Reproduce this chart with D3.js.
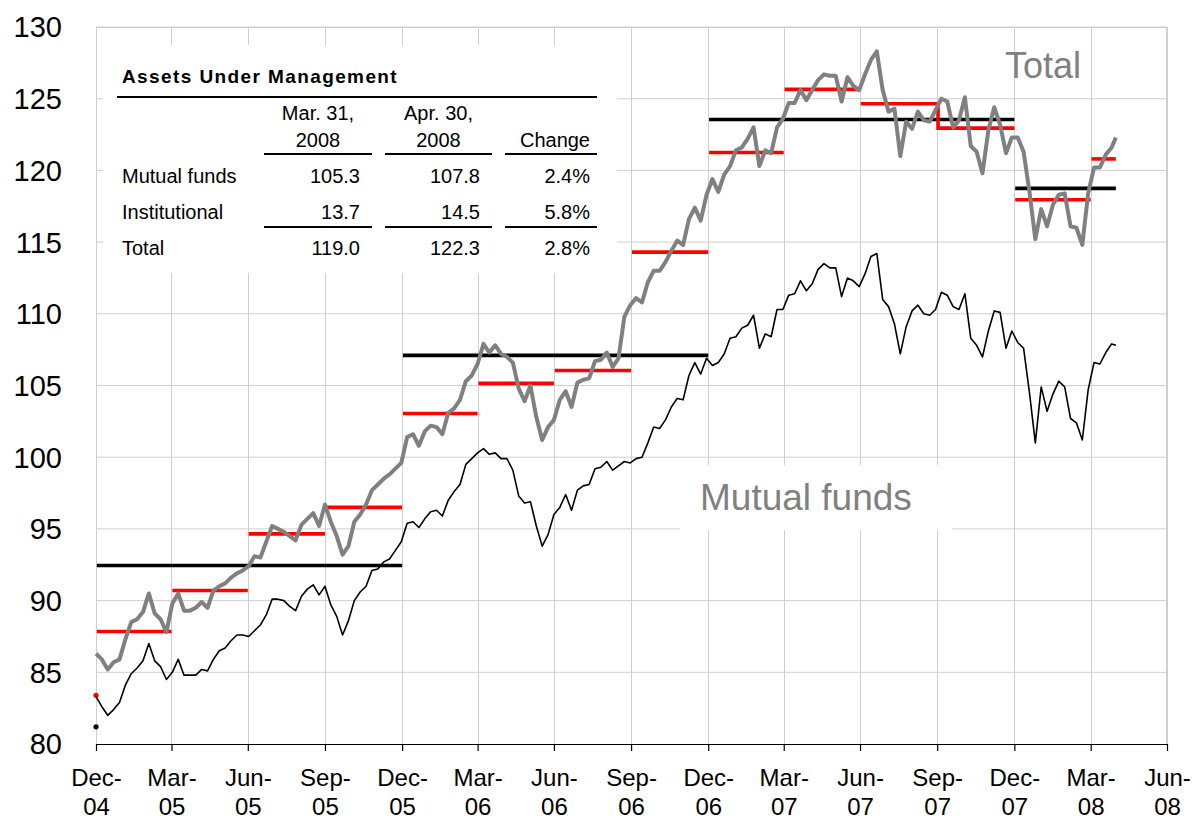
<!DOCTYPE html>
<html>
<head>
<meta charset="utf-8">
<script src="https://cdnjs.cloudflare.com/ajax/libs/d3/7.8.5/d3.min.js"></script>
<style>
  body { margin: 0; background: #fff; }
  text { font-family: Arial, "Liberation Sans", sans-serif; }
</style>
</head>
<body>
<div id="chart"></div>
<script>
// weekly index values (Fridays), starting 31-Dec-2004
var firstWeek = new Date(2004, 11, 31);
var lastDay = new Date(2008, 3, 30);

var totalWeekly = [
  86.3, 85.9, 85.2, 85.7, 85.9, 87.3, 88.5, 88.7, 89.2, 90.5,
  89.1, 88.7, 87.8, 89.8, 90.5, 89.3, 89.3, 89.5, 89.9, 89.5,
  90.7, 91.0, 91.2, 91.6, 91.9, 92.1, 92.4, 93.1, 93.0, 94.1,
  95.2, 95.0, 94.8, 94.5, 94.2, 95.3, 95.7, 96.1, 95.2, 96.7,
  95.5, 94.5, 93.2, 93.8, 95.5, 96.0, 96.7, 97.7, 98.1, 98.5,
  98.8, 99.2, 99.6, 101.4, 101.6, 100.8, 101.8, 102.2, 102.1, 101.6,
  103.1, 103.4, 104.0, 105.3, 105.7, 106.5, 107.9, 107.3, 107.8, 107.2,
  107.0, 106.6, 104.8, 103.9, 105.0, 102.8, 101.2, 102.1, 102.6, 104.0,
  104.6, 103.5, 105.2, 105.4, 105.5, 106.7, 106.8, 107.3, 106.3, 106.9,
  109.8, 110.6, 111.1, 110.8, 112.2, 113.0, 113.0, 113.6, 114.4, 115.1,
  114.8, 116.6, 117.4, 116.5, 118.3, 119.4, 118.5, 119.7, 120.3, 121.4,
  121.6, 122.2, 123.0, 120.3, 121.4, 121.2, 123.0, 123.6, 124.7, 124.7,
  125.6, 124.9, 125.6, 126.3, 126.7, 126.6, 126.6, 124.8, 126.5, 125.9,
  125.6, 126.7, 127.7, 128.3, 125.6, 124.1, 124.3, 121.0, 123.4, 122.9,
  124.1, 123.5, 123.4, 124.2, 125.0, 124.8, 123.0, 123.5, 125.1, 121.7,
  121.3, 119.8, 122.8, 124.4, 123.2, 121.2, 122.3, 122.3, 121.3, 118.5,
  115.2, 117.3, 116.1, 117.6, 118.3, 118.4, 116.1, 116.0, 114.8, 118.4,
  120.2, 120.2, 121.1, 121.6
];
var mutualWeekly = [
  83.3, 82.6, 82.0, 82.4, 82.9, 84.1, 84.9, 85.3, 85.8, 87.0,
  85.8, 85.4, 84.5, 85.0, 85.9, 84.8, 84.8, 84.8, 85.2, 85.1,
  85.9, 86.5, 86.7, 87.2, 87.6, 87.6, 87.5, 87.9, 88.3, 89.0,
  90.1, 90.1, 90.0, 89.6, 89.3, 90.3, 90.8, 91.1, 90.4, 91.0,
  89.7, 88.9, 87.6, 88.6, 90.0, 90.6, 91.0, 92.1, 92.2, 92.7,
  92.9, 93.5, 94.1, 95.4, 95.5, 95.1, 95.7, 96.2, 96.3, 95.9,
  97.0, 97.6, 98.1, 99.5, 99.9, 100.3, 100.6, 100.2, 100.3, 99.9,
  99.9, 99.1, 97.3, 96.8, 96.9, 95.2, 93.8, 94.6, 96.0, 96.5,
  97.4, 96.3, 97.7, 98.0, 98.1, 99.2, 99.3, 99.7, 99.1, 99.4,
  99.7, 99.6, 99.9, 100.0, 101.0, 102.1, 102.0, 102.6, 103.5, 104.1,
  104.0, 105.7, 106.6, 105.8, 106.9, 106.4, 106.6, 107.2, 108.3, 108.4,
  109.0, 109.2, 109.9, 107.6, 108.6, 108.4, 110.3, 110.3, 111.3, 111.4,
  112.3, 111.6, 112.1, 113.1, 113.5, 113.2, 113.2, 111.2, 112.5, 112.3,
  111.9, 112.8, 114.0, 114.2, 111.0, 110.5, 109.3, 107.2, 109.1, 110.2,
  110.6, 110.0, 109.9, 110.3, 111.5, 111.3, 110.5, 110.3, 111.4, 108.3,
  107.8, 107.0, 108.8, 110.2, 110.1, 107.6, 108.8, 108.0, 107.6, 104.5,
  101.0, 104.9, 103.2, 104.4, 105.3, 104.9, 102.7, 102.4, 101.2, 104.7,
  106.6, 106.5, 107.3, 107.9
];
var lastTotal = 122.3;
var lastMutual = 107.8;

// quarterly averages of total (red) and yearly averages (black)
var quarterNames = ["2004Q4", "2005Q1", "2005Q2", "2005Q3", "2005Q4", "2006Q1", "2006Q2",
  "2006Q3", "2006Q4", "2007Q1", "2007Q2", "2007Q3", "2007Q4", "2008Q1", "2008Q2"];
var quarterAvg = [83.4, 87.85, 90.7, 94.65, 96.5, 103.05, 105.15,
  106.05, 114.3, 121.25, 125.65, 124.65, 122.95, 117.95, 120.8];
var joinedQuarters = ["2007Q4"];
var years = [2004, 2005, 2006, 2007, 2008];
var yearAvg = [81.2, 92.45, 107.1, 123.55, 118.75];

// table
var tableTitle = "Assets Under Management";
var tableHeads = [["Mar. 31,", "2008"], ["Apr. 30,", "2008"], ["", "Change"]];
var tableRows = ["Mutual funds", "Institutional", "Total"];
var mar31 = [105.3, 13.7, 119.0];
var apr30 = [107.8, 14.5, 122.3];
var changePct = [2.4, 5.8, 2.8];

var yTicks = [80, 85, 90, 95, 100, 105, 110, 115, 120, 125, 130];

var width = 1192, height = 821;
var margin = {top: 27, right: 25, bottom: 77, left: 96};
var plotW = width - margin.left - margin.right,
    plotH = height - margin.top - margin.bottom;

var svg = d3.select("#chart").append("svg")
  .attr("width", width)
  .attr("height", height);

var g = svg.append("g")
  .attr("transform", "translate(" + margin.left + "," + margin.top + ")");

var startDay = new Date(2004, 11, 31),
    endDay = new Date(2008, 5, 30);

var x = d3.scaleTime().domain([startDay, endDay]).range([0, plotW]);
var y = d3.scaleLinear().domain([80, 130]).range([plotH, 0]);

// quarter ends: Dec-04 ... Jun-08
var quarterEnds = d3.timeMonth.range(new Date(2005, 0, 1), new Date(2008, 6, 2), 3)
  .map(function(d) { return d3.timeDay.offset(d, -1); });

// grid
g.append("g").selectAll("line.h")
  .data(yTicks.slice(1))
  .enter().append("line")
  .attr("x1", 0).attr("x2", plotW)
  .attr("y1", function(d) { return y(d); })
  .attr("y2", function(d) { return y(d); })
  .attr("stroke", "#cfcfcf").attr("stroke-width", 1);

g.append("g").selectAll("line.v")
  .data(quarterEnds)
  .enter().append("line")
  .attr("x1", function(d) { return Math.round(x(d)) + 0.5; })
  .attr("x2", function(d) { return Math.round(x(d)) + 0.5; })
  .attr("y1", 0).attr("y2", plotH)
  .attr("stroke", "#cfcfcf").attr("stroke-width", 1);

g.append("rect")
  .attr("x", 0.5).attr("y", 0.5)
  .attr("width", plotW - 1).attr("height", plotH)
  .attr("fill", "none").attr("stroke", "#cfcfcf");

// white boxes behind table and label
g.append("rect")
  .attr("x", 7).attr("y", 18).attr("width", 514).attr("height", 228)
  .attr("fill", "#fff");
g.append("rect")
  .attr("x", 584).attr("y", 438).attr("width", 272).attr("height", 65)
  .attr("fill", "#fff");

// x axis
var xAxis = d3.axisBottom(x)
  .tickValues(quarterEnds)
  .tickSize(7)
  .tickSizeOuter(0)
  .tickFormat("");

var xg = g.append("g")
  .attr("transform", "translate(0," + plotH + ")")
  .call(xAxis);
xg.select(".domain").attr("stroke", "#000").attr("stroke-width", 1.2);
xg.selectAll(".tick line").attr("stroke", "#000").attr("stroke-width", 1.2);

var fmtMon = d3.timeFormat("%b-"), fmtYr = d3.timeFormat("%y");
var xl = xg.selectAll(".tick").append("g");
xl.append("text")
  .attr("y", 42).attr("text-anchor", "middle")
  .attr("font-size", 24).attr("fill", "#000")
  .text(function(d) { return fmtMon(d); });
xl.append("text")
  .attr("y", 71).attr("text-anchor", "middle")
  .attr("font-size", 24).attr("fill", "#000")
  .text(function(d) { return fmtYr(d); });

// y labels
g.append("g").selectAll("text")
  .data(yTicks)
  .enter().append("text")
  .attr("x", -34)
  .attr("y", function(d) { return y(d); })
  .attr("dy", "0.36em")
  .attr("text-anchor", "end")
  .attr("font-size", 29)
  .attr("fill", "#000")
  .text(function(d) { return d; });

// averages
function quarterRange(name) {
  var yr = +name.slice(0, 4), q = +name.slice(5);
  return [new Date(yr, (q - 1) * 3, 1), d3.timeDay.offset(new Date(yr, q * 3, 1), -1)];
}
function yearRange(yr) {
  return [new Date(yr, 0, 1), new Date(yr, 11, 31)];
}
function clip(r) {
  return [r[0] < startDay ? startDay : r[0], r[1] > lastDay ? lastDay : r[1]];
}

var yearSegs = years.map(function(yr, i) {
  var r = clip(yearRange(yr));
  return {start: r[0], end: r[1], value: yearAvg[i]};
});
var quarterSegs = quarterNames.map(function(n, i) {
  var r = clip(quarterRange(n));
  return {start: r[0], end: r[1], value: quarterAvg[i],
          prev: joinedQuarters.indexOf(n) >= 0 ? quarterAvg[i - 1] : null};
});

function drawSegs(data, color) {
  var grp = g.append("g");
  var lines = data.filter(function(d) { return d.end > d.start; });
  var dots = data.filter(function(d) { return !(d.end > d.start); });
  grp.selectAll("path")
    .data(lines)
    .enter().append("path")
    .attr("d", function(d) {
      var p = d3.path();
      if (d.prev != null) {
        p.moveTo(x(d.start), y(d.prev));
        p.lineTo(x(d.start), y(d.value));
      } else {
        p.moveTo(x(d.start), y(d.value));
      }
      p.lineTo(x(d.end), y(d.value));
      return p.toString();
    })
    .attr("fill", "none")
    .attr("stroke", color)
    .attr("stroke-width", 3.6);
  grp.selectAll("circle")
    .data(dots)
    .enter().append("circle")
    .attr("cx", function(d) { return x(d.start); })
    .attr("cy", function(d) { return y(d.value); })
    .attr("r", 2.6)
    .attr("fill", color);
}
drawSegs(yearSegs, "#000");
drawSegs(quarterSegs, "#ff0000");

// series
function toSeries(weekly, last) {
  var s = weekly.map(function(v, i) {
    return {date: d3.timeDay.offset(firstWeek, 7 * i), value: v};
  });
  s.push({date: lastDay, value: last});
  return s;
}
var totalSeries = toSeries(totalWeekly, lastTotal);
var mutualSeries = toSeries(mutualWeekly, lastMutual);

var line = d3.line()
  .x(function(d) { return x(d.date); })
  .y(function(d) { return y(d.value); });

g.append("path")
  .datum(totalSeries)
  .attr("d", line)
  .attr("fill", "none")
  .attr("stroke", "#808080")
  .attr("stroke-width", 4)
  .attr("stroke-linejoin", "round");

g.append("path")
  .datum(mutualSeries)
  .attr("d", line)
  .attr("fill", "none")
  .attr("stroke", "#000")
  .attr("stroke-width", 1.6)
  .attr("stroke-linejoin", "round");

// series labels
g.append("text")
  .attr("x", 909).attr("y", 51)
  .attr("font-size", 36).attr("fill", "#808080")
  .text("Total");
g.append("text")
  .attr("x", 604).attr("y", 483)
  .attr("font-size", 37).attr("fill", "#808080")
  .text("Mutual funds");

// table
var tb = g.append("g");
var colRange = [[168, 276], [289, 396], [409, 501]];

tb.append("text")
  .attr("x", 26).attr("y", 56)
  .attr("font-size", 19).attr("font-weight", "bold")
  .attr("letter-spacing", 1.4)
  .text(tableTitle);
tb.append("line")
  .attr("x1", 21).attr("x2", 501).attr("y1", 70).attr("y2", 70)
  .attr("stroke", "#000").attr("stroke-width", 2.2);

tableHeads.forEach(function(h, c) {
  var cx = (colRange[c][0] + colRange[c][1]) / 2;
  h.forEach(function(t, j) {
    var tx = tb.append("text")
      .attr("y", 93 + j * 27)
      .attr("font-size", 20)
      .text(t);
    if (c === 2) tx.attr("x", colRange[c][1] - 7).attr("text-anchor", "end");
    else tx.attr("x", cx).attr("text-anchor", "middle");
  });
  tb.append("line")
    .attr("x1", colRange[c][0]).attr("x2", colRange[c][1])
    .attr("y1", 127).attr("y2", 127)
    .attr("stroke", "#000").attr("stroke-width", 2.2);
  tb.append("line")
    .attr("x1", colRange[c][0]).attr("x2", colRange[c][1])
    .attr("y1", 200).attr("y2", 200)
    .attr("stroke", "#000").attr("stroke-width", 2.2);
});

tableRows.forEach(function(r, i) {
  var ry = 156 + i * 36;
  tb.append("text").attr("x", 26).attr("y", ry).attr("font-size", 20).text(r);
  var vals = [mar31[i].toFixed(1), apr30[i].toFixed(1), changePct[i].toFixed(1) + "%"];
  vals.forEach(function(v, c) {
    tb.append("text")
      .attr("x", colRange[c][1] - (c === 2 ? 7 : 12))
      .attr("y", ry)
      .attr("text-anchor", "end")
      .attr("font-size", 20)
      .text(v);
  });
});
</script>
</body>
</html>
